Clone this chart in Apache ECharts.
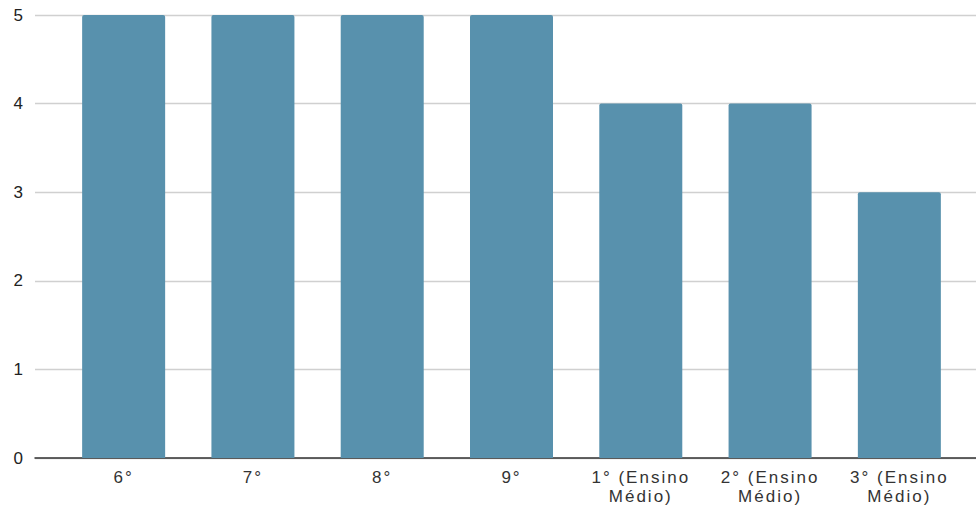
<!DOCTYPE html>
<html>
<head>
<meta charset="utf-8">
<script src="https://cdn.jsdelivr.net/npm/echarts@6/dist/echarts.min.js"></script>
<style>
  html, body { margin: 0; padding: 0; background: #fff; }
  #chart { width: 976px; height: 508px; }
  #chart svg text { letter-spacing: 2px; }
</style>
</head>
<body>
<div id="chart"></div>
<script>
// Série: turmas e respectivos valores
const categories = ['6°', '7°', '8°', '9°', '1° (Ensino Médio)', '2° (Ensino Médio)', '3° (Ensino Médio)'];
const values = [5, 5, 5, 5, 4, 4, 3];
const yTicks = [0, 1, 2, 3, 4, 5];

const FONT = '"Liberation Sans", Arial, sans-serif';
const yMin = yTicks[0];
const yMax = yTicks[yTicks.length - 1];

const chart = echarts.init(document.getElementById('chart'), null, { renderer: 'svg' });

chart.setOption({
  animation: false,
  backgroundColor: '#ffffff',
  grid: [
    // frame: gridlines, y labels and baseline across the full width
    { left: 35, right: 0, top: 15, bottom: 50 },
    // bars
    { left: 59, right: 12, top: 15, bottom: 50 }
  ],
  xAxis: [
    {
      gridIndex: 0, type: 'category', data: [''],
      axisLine: { show: true, lineStyle: { color: '#333333', width: 1.5 } },
      axisTick: { show: false }, axisLabel: { show: false }, splitLine: { show: false }
    },
    {
      gridIndex: 1, type: 'category', data: categories,
      axisLine: { show: false }, axisTick: { show: false },
      axisLabel: {
        interval: 0, margin: 10, fontSize: 17, lineHeight: 19,
        color: '#333333', fontFamily: FONT,
        formatter: v => v.replace(' Médio', '\nMédio')
      }
    }
  ],
  yAxis: [
    {
      gridIndex: 0, type: 'value', min: yMin, max: yMax, interval: 1,
      axisLine: { show: false }, axisTick: { show: false },
      axisLabel: { margin: 10, fontSize: 17, color: '#222222', fontFamily: FONT },
      splitLine: { show: true, lineStyle: { color: '#d0d0d0', width: 1.4 } }
    },
    {
      gridIndex: 1, type: 'value', min: yMin, max: yMax, interval: 1,
      axisLine: { show: false }, axisTick: { show: false },
      axisLabel: { show: false }, splitLine: { show: false }
    }
  ],
  series: [
    {
      type: 'bar',
      xAxisIndex: 1, yAxisIndex: 1,
      data: values,
      barWidth: 83,
      itemStyle: { color: '#5891ad', borderRadius: [2, 2, 0, 0] }
    }
  ]
});
</script>
</body>
</html>
